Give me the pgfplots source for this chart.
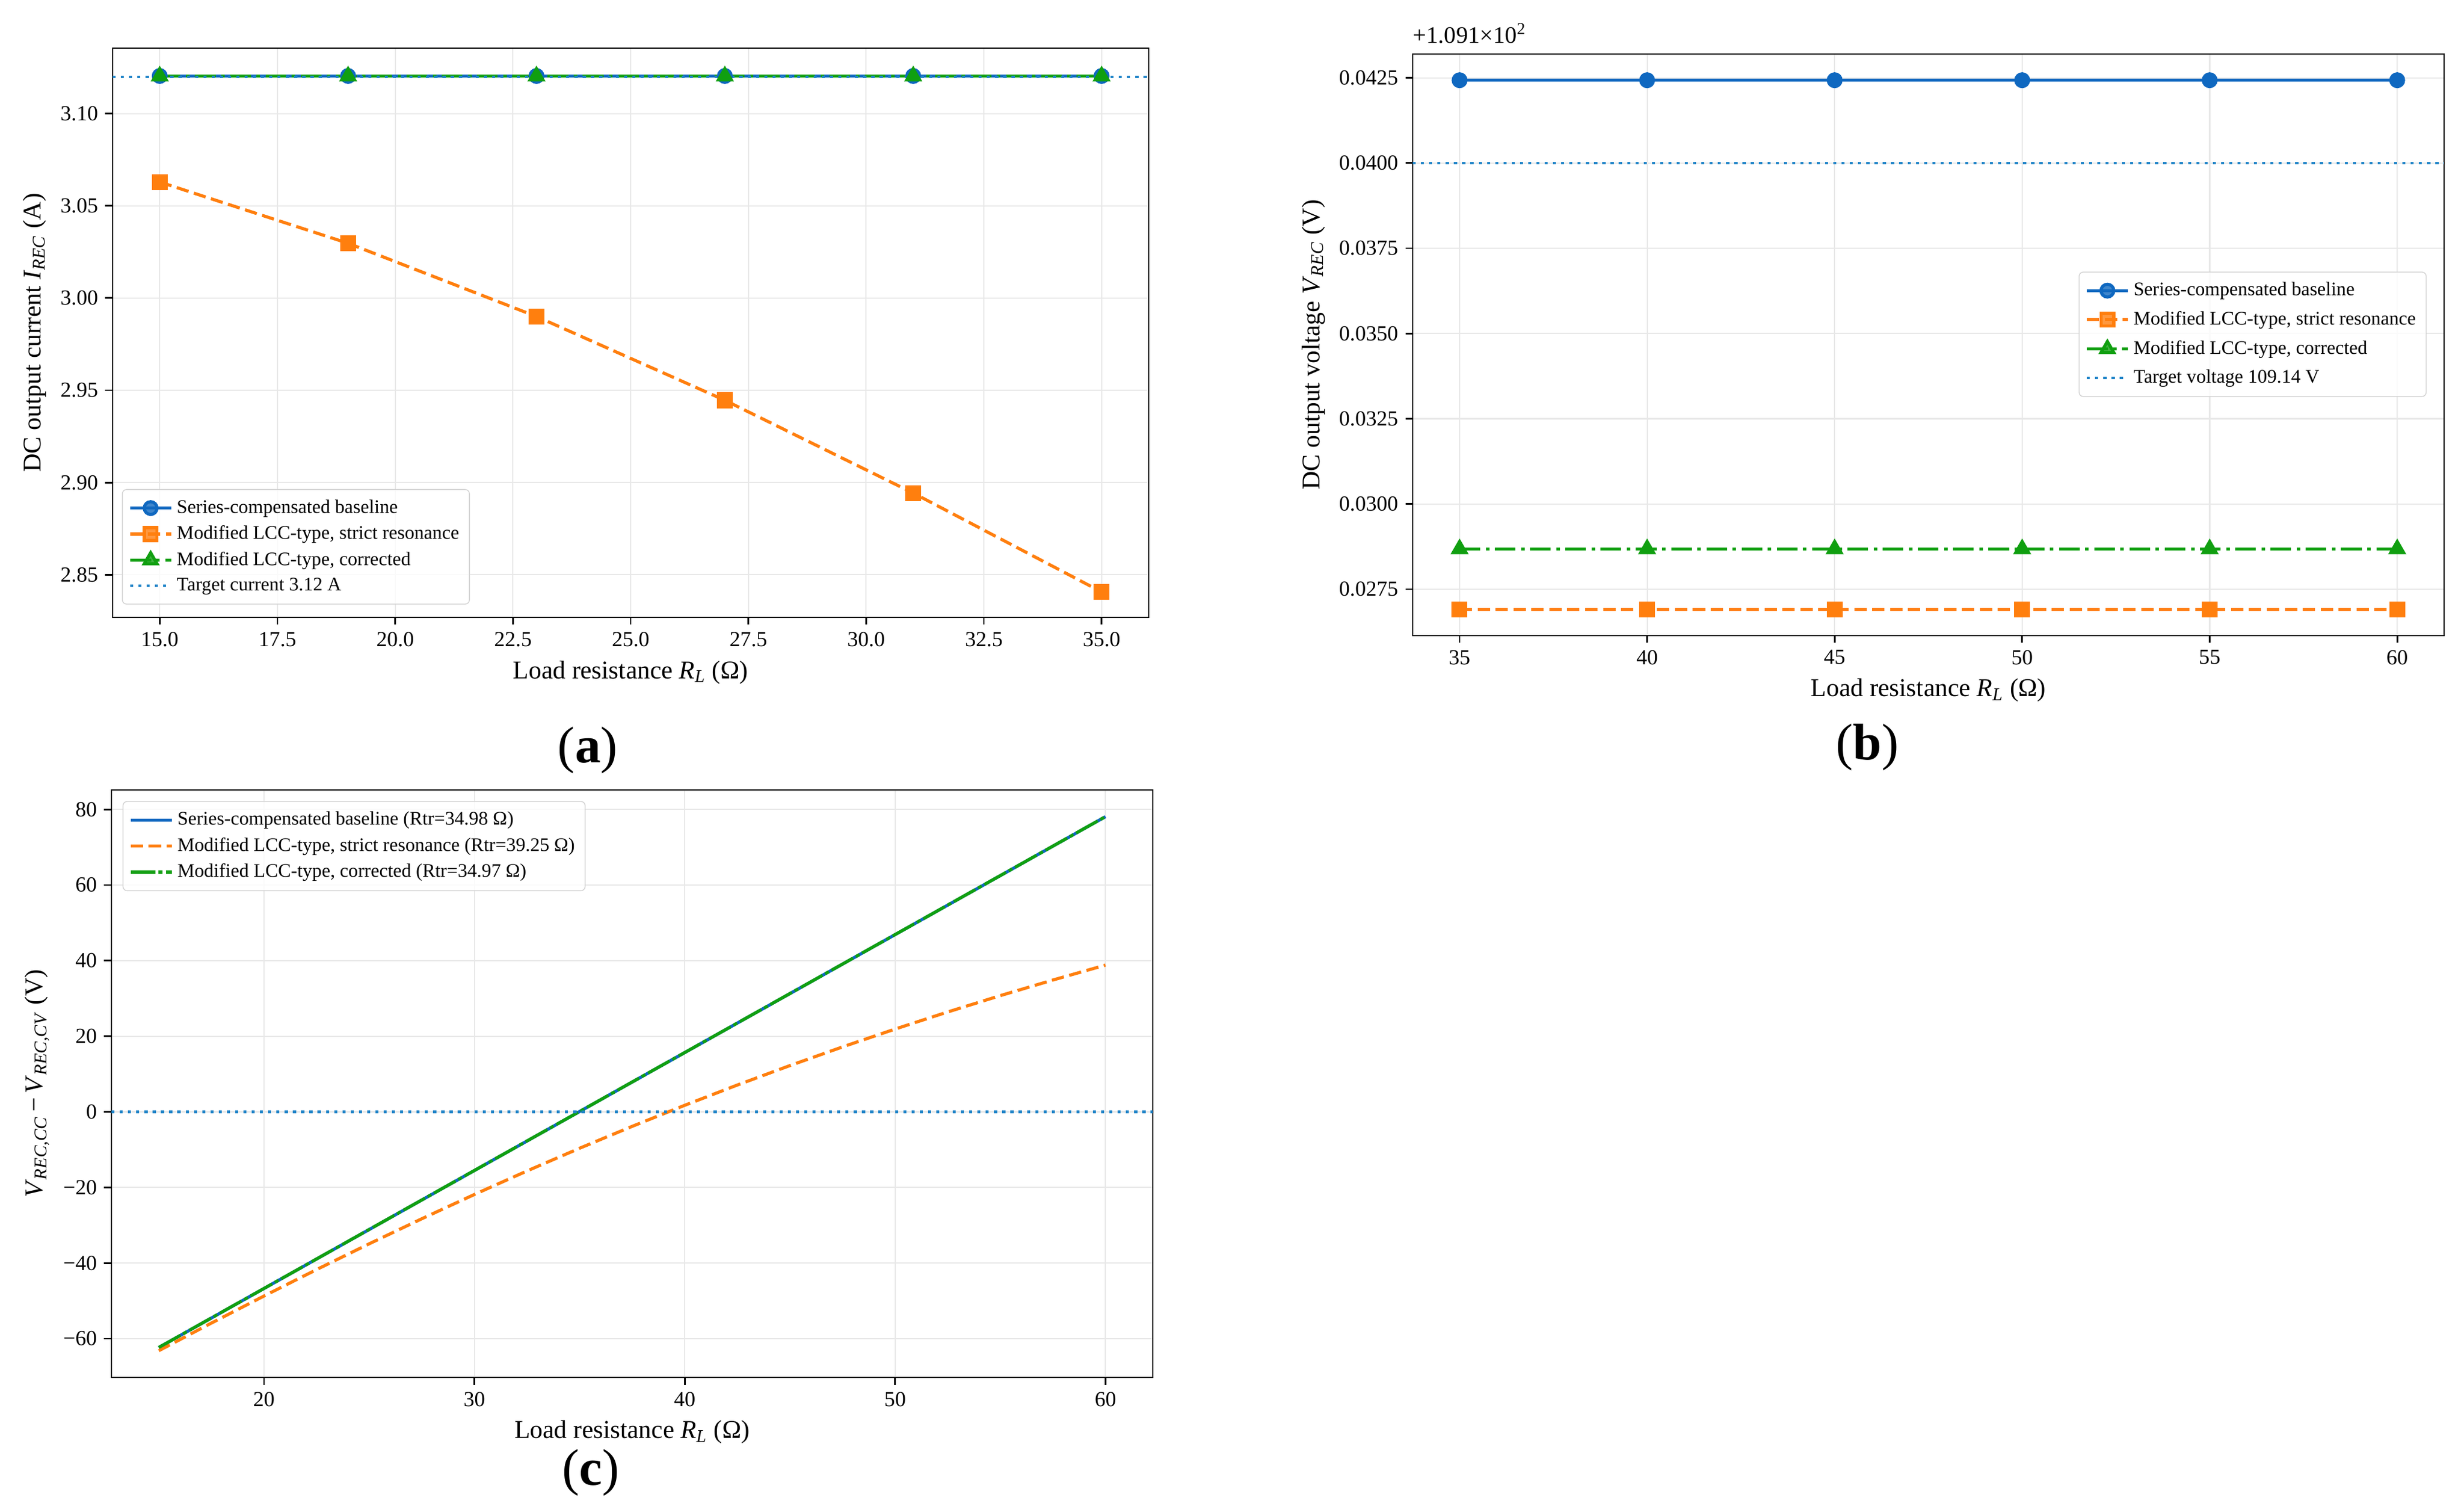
\documentclass[border=0pt]{standalone}
\usepackage{fontspec}
\newfontfamily\tnr{Liberation Serif}
\usepackage{pgfplots}
\pgfplotsset{compat=1.18}
\definecolor{cblue}{HTML}{0F68C0}
\definecolor{ctarget}{HTML}{1F84C8}
\definecolor{corange}{HTML}{FF7F0E}
\definecolor{cgreen}{HTML}{109F10}
\pgfplotsset{
  myaxis/.style={
    scale only axis,
    anchor=south west,
    axis line style={line width=0.8pt},
    tick align=outside,
    tick pos=left,
    major tick length=0.125cm,
    every tick/.style={black, line width=0.8pt},
    grid=major,
    major grid style={line width=0.6pt, color=black!9},
    tick label style={font=\tnr\fontsize{10.4}{12}\selectfont},
    /pgf/number format/assume math mode=true,
    xlabel style={font=\tnr\fontsize{12.4}{14}\selectfont},
    ylabel style={font=\tnr\fontsize{12.4}{14}\selectfont},
    legend cell align=left,
    legend style={font=\tnr\fontsize{9.3}{11}\selectfont, draw=black!18, rounded corners=2pt,
      fill=white, fill opacity=0.8, text opacity=1, row sep=0.6pt, inner xsep=3pt, inner ysep=3pt},
    legend image code/.code={\draw[mark repeat=2,mark phase=2,#1] plot coordinates {(0cm,0cm) (0.35cm,0cm) (0.7cm,0cm)};},
  },
  lnd/.style={dash pattern=on 6pt off 2.7pt},
  lndd/.style={dash pattern=on 10pt off 2.7pt on 1.7pt off 2.7pt},
  lndot/.style={dash pattern=on 1.5pt off 2.5pt},
}
\begin{document}
\begin{tikzpicture}
\path[use as bounding box] (0,0) rectangle (42cm,25.6cm);

% ---------------- (a) ----------------
\begin{axis}[myaxis, at={(1.92cm,15.08cm)}, width=17.66cm, height=9.70cm,
  xmin=14, xmax=36, ymin=2.8269, ymax=3.1355,
  xtick={15,17.5,20,22.5,25,27.5,30,32.5,35},
  ytick={2.85,2.90,2.95,3.00,3.05,3.10},
  xticklabel style={/pgf/number format/.cd, fixed, fixed zerofill, precision=1},
  yticklabel style={/pgf/number format/.cd, fixed, fixed zerofill, precision=2},
  scaled ticks=false,
  xlabel={Load resistance \textit{R}\textsubscript{\textit{L}} (Ω)},
  ylabel={DC output current \textit{I}\textsubscript{\textit{REC}} (A)},
  legend style={at={(0.009,0.0227)}, anchor=south west}]
\addplot[cblue, line width=1.5pt, mark=*, mark size=3.1pt] coordinates {
  (15,3.1204) (19,3.1204) (23,3.1204) (27,3.1204) (31,3.1204) (35,3.1204)};
\addlegendentry{Series-compensated baseline}
\addplot[corange, line width=1.5pt, lnd, mark=square*, mark size=3.1pt, mark options={solid}] coordinates {
  (15,3.0629) (19,3.0297) (23,2.9900) (27,2.9446) (31,2.8943) (35,2.8407)};
\addlegendentry{Modified LCC-type, strict resonance}
\addplot[cgreen, line width=1.5pt, lndd, mark=triangle*, mark size=3.6pt, mark options={solid}] coordinates {
  (15,3.1203) (19,3.1203) (23,3.1203) (27,3.1203) (31,3.1203) (35,3.1203)};
\addlegendentry{Modified LCC-type, corrected}
\addplot[ctarget, line width=1.2pt, lndot] coordinates {(14,3.12) (36,3.12)};
\addlegendentry{Target current 3.12 A}
\end{axis}

% ---------------- (b) ----------------
% y values are V_REC - 109.1 (V), shown with the offset +1.091x10^2
\begin{axis}[myaxis, at={(24.08cm,14.77cm)}, width=17.58cm, height=9.91cm,
  xmin=33.75, xmax=61.25, ymin=0.02614, ymax=0.04320,
  xtick={35,40,45,50,55,60},
  ytick={0.0275,0.0300,0.0325,0.0350,0.0375,0.0400,0.0425},
  yticklabel style={/pgf/number format/.cd, fixed, fixed zerofill, precision=4},
  scaled ticks=false,
  clip mode=individual,
  xlabel={Load resistance \textit{R}\textsubscript{\textit{L}} (Ω)},
  ylabel={DC output voltage \textit{V}\textsubscript{\textit{REC}} (V)},
  legend style={at={(0.983,0.518)}, anchor=east, row sep=2.1pt},
  after end axis/.code={\node[anchor=base west, inner sep=0pt, font=\tnr\fontsize{11.5}{13}\selectfont] at ([yshift=0.18cm]rel axis cs:0,1) {+1.091×10\textsuperscript{2}};}]
\addplot[cblue, line width=1.5pt, mark=*, mark size=3.1pt] coordinates {
  (35,0.04243) (40,0.04243) (45,0.04243) (50,0.04243) (55,0.04243) (60,0.04243)};
\addlegendentry{Series-compensated baseline}
\addplot[corange, line width=1.5pt, lnd, mark=square*, mark size=3.1pt, mark options={solid}] coordinates {
  (35,0.02690) (40,0.02690) (45,0.02690) (50,0.02690) (55,0.02690) (60,0.02690)};
\addlegendentry{Modified LCC-type, strict resonance}
\addplot[cgreen, line width=1.5pt, lndd, mark=triangle*, mark size=3.6pt, mark options={solid}] coordinates {
  (35,0.02868) (40,0.02868) (45,0.02868) (50,0.02868) (55,0.02868) (60,0.02868)};
\addlegendentry{Modified LCC-type, corrected}
\addplot[ctarget, line width=1.0pt, lndot] coordinates {(33.75,0.0400) (61.25,0.0400)};
\addlegendentry{Target voltage 109.14 V}
\end{axis}

% ---------------- (c) ----------------
\begin{axis}[myaxis, at={(1.90cm,2.13cm)}, width=17.75cm, height=10.01cm,
  xmin=12.75, xmax=62.25, ymin=-70.25, ymax=85.16,
  xtick={20,30,40,50,60},
  ytick={-60,-40,-20,0,20,40,60,80},
  yticklabels={−60,−40,−20,0,20,40,60,80},
  xlabel={Load resistance \textit{R}\textsubscript{\textit{L}} (Ω)},
  ylabel={\textit{V}\textsubscript{\textit{REC,CC}}\,−\,\textit{V}\textsubscript{\textit{REC,CV}} (V)},
  legend style={at={(0.0107,0.981)}, anchor=north west},
  legend image code/.code={\draw[#1] (0cm,0cm) -- (0.7cm,0cm);}]
\addplot[cblue, line width=1.5pt] coordinates {
  (15,-62.336) (20,-46.734) (25,-31.132) (30,-15.530) (35,0.072) (40,15.674)
  (45,31.276) (50,46.878) (55,62.480) (60,78.082)};
\addlegendentry{Series-compensated baseline (Rtr=34.98 Ω)}
\addplot[corange, line width=1.5pt, lnd] coordinates {
  (15,-63.187) (17.5,-55.877) (20,-48.718) (22.5,-41.724) (25,-34.910) (27.5,-28.287)
  (30,-21.862) (32.5,-15.644) (35,-9.637) (37.5,-3.844) (40,1.732) (42.5,7.093)
  (45,12.238) (47.5,17.172) (50,21.897) (52.5,26.419) (55,30.740) (57.5,34.870) (60,38.812)};
\addlegendentry{Modified LCC-type, strict resonance (Rtr=39.25 Ω)}
\addplot[cgreen, line width=1.5pt, dash pattern=on 12pt off 1.5pt on 2pt off 1.5pt] coordinates {
  (15,-62.322) (20,-46.720) (25,-31.118) (30,-15.516) (35,0.086) (40,15.688)
  (45,31.290) (50,46.892) (55,62.494) (60,78.096)};
\addlegendentry{Modified LCC-type, corrected (Rtr=34.97 Ω)}
\addplot[ctarget, line width=1.2pt, lndot, forget plot] coordinates {(12.75,0) (62.25,0)};
\end{axis}

% panel labels
\node[anchor=base, font=\tnr\fontsize{25}{29}\selectfont] at (10.02cm,12.60cm) {(\textbf{a})};
\node[anchor=base, font=\tnr\fontsize{25}{29}\selectfont] at (31.83cm,12.65cm) {(\textbf{b})};
\node[anchor=base, font=\tnr\fontsize{25}{29}\selectfont] at (10.07cm,0.30cm) {(\textbf{c})};
\end{tikzpicture}
\end{document}
